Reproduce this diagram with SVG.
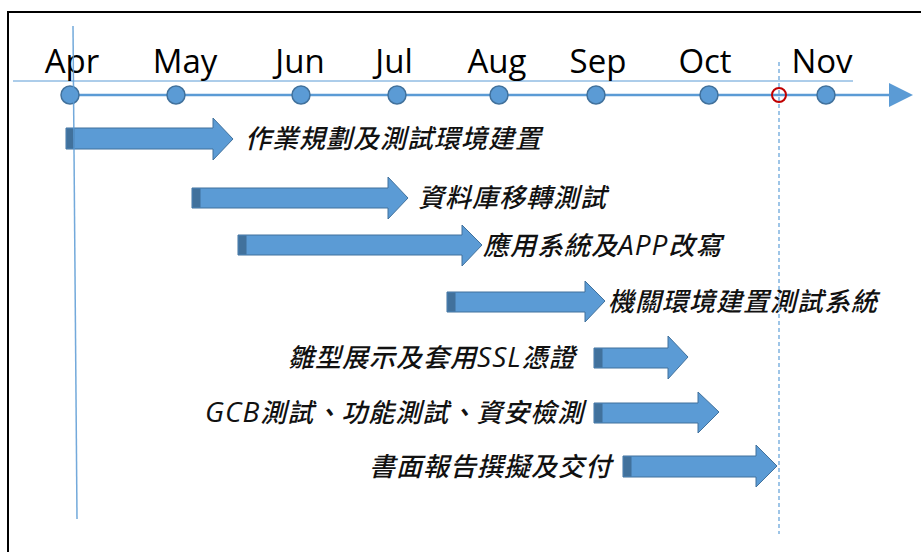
<svg xmlns="http://www.w3.org/2000/svg" width="921" height="552" viewBox="0 0 921 552">
<style>
.frame{fill:none;stroke:#000;stroke-width:2}
.month{font-family:"Open Sans","Liberation Sans",sans-serif;font-size:33px;fill:#000;text-anchor:middle}
.dot{fill:#5b9bd5;stroke:#41719c;stroke-width:1.5}
.bar{fill:#5b9bd5;stroke:#41719c;stroke-width:1}
.band{fill:#41719c}
.lbl{font-family:"Noto Sans CJK TC","Noto Sans CJK SC",sans-serif;font-size:26px;font-style:italic;font-weight:500;letter-spacing:1px;fill:#111}
.lat{font-family:"Open Sans","Liberation Sans",sans-serif;font-size:28px;letter-spacing:1px;font-weight:400}
.axis{stroke:#5b9bd5;fill:none}
</style>
<rect width="921" height="552" fill="#fff"/>
<rect class="frame" x="8" y="12" width="940" height="570"/>

<g id="timeline">
  <line class="axis" x1="13" y1="81" x2="853" y2="81" stroke-width="1"/>
  <line class="axis" x1="70" y1="95" x2="892" y2="95" stroke-width="2.5"/>
  <polygon points="889,83 913,95 889,107" fill="#5b9bd5"/>
  <text class="month" x="72" y="73">Apr</text>
  <text class="month" x="185" y="73">May</text>
  <text class="month" x="300" y="73">Jun</text>
  <text class="month" x="394" y="73">Jul</text>
  <text class="month" x="497" y="73">Aug</text>
  <text class="month" x="598" y="73">Sep</text>
  <text class="month" x="705" y="73">Oct</text>
  <text class="month" x="822" y="73">Nov</text>
  <circle class="dot" cx="70" cy="95" r="9"/>
  <circle class="dot" cx="176" cy="95" r="9"/>
  <circle class="dot" cx="301" cy="95" r="9"/>
  <circle class="dot" cx="397" cy="95" r="9"/>
  <circle class="dot" cx="499" cy="95" r="9"/>
  <circle class="dot" cx="596" cy="95" r="9"/>
  <circle class="dot" cx="709" cy="95" r="9"/>
  <circle class="dot" cx="826" cy="95" r="9"/>
</g>

<g id="task1">
  <polygon class="bar" points="66,128 213,128 213,118 233,139 213,160 213,149 66,149"/>
  <rect class="band" x="66.5" y="128.5" width="8" height="20"/>
  <text class="lbl" x="245" y="148">作業規劃及測試環境建置</text>
</g>
<g id="task2">
  <polygon class="bar" points="192,188 388,188 388,177 408,198 388,219 388,208 192,208"/>
  <rect class="band" x="192.5" y="188.5" width="8" height="19"/>
  <text class="lbl" x="418" y="207">資料庫移轉測試</text>
</g>
<g id="task3">
  <polygon class="bar" points="238,235 462,235 462,225 482,245 462,266 462,255 238,255"/>
  <rect class="band" x="238.5" y="235.5" width="8" height="19"/>
  <text class="lbl" x="483" y="255">應用系統及<tspan class="lat">APP</tspan>改寫</text>
</g>
<g id="task4">
  <polygon class="bar" points="447,292 585,292 585,281 605,301 585,322 585,312 447,312"/>
  <rect class="band" x="447.5" y="292.5" width="8" height="19"/>
  <text class="lbl" x="608" y="311">機關環境建置測試系統</text>
</g>
<g id="task5">
  <polygon class="bar" points="594,348 668,348 668,336 688,357 668,379 668,368 594,368"/>
  <rect class="band" x="594.5" y="348.5" width="8" height="19"/>
  <text class="lbl" x="288" y="367">雛型展示及套用<tspan class="lat">SSL</tspan>憑證</text>
</g>
<g id="task6">
  <polygon class="bar" points="594,403 698,403 698,392 719,412 698,433 698,423 594,423"/>
  <rect class="band" x="594.5" y="403.5" width="8" height="19"/>
  <text class="lbl" x="205" y="422"><tspan class="lat">GCB</tspan>測試、功能測試、資安檢測</text>
</g>
<g id="task7">
  <polygon class="bar" points="623,456 756,456 756,445 777,466 756,487 756,477 623,477"/>
  <rect class="band" x="623.5" y="456.5" width="8" height="20"/>
  <text class="lbl" x="369" y="476">書面報告撰擬及交付</text>
</g>

<g id="connectors">
  <line x1="73" y1="26" x2="77" y2="519" stroke="#5b9bd5" stroke-width="1.5" opacity="0.85"/>
  <line x1="779" y1="62" x2="779" y2="534" stroke="#7fb2e0" stroke-width="1.5" stroke-dasharray="4 3"/>
  <circle cx="779" cy="95" r="7" fill="none" stroke="#c00000" stroke-width="2"/>
</g>
</svg>
